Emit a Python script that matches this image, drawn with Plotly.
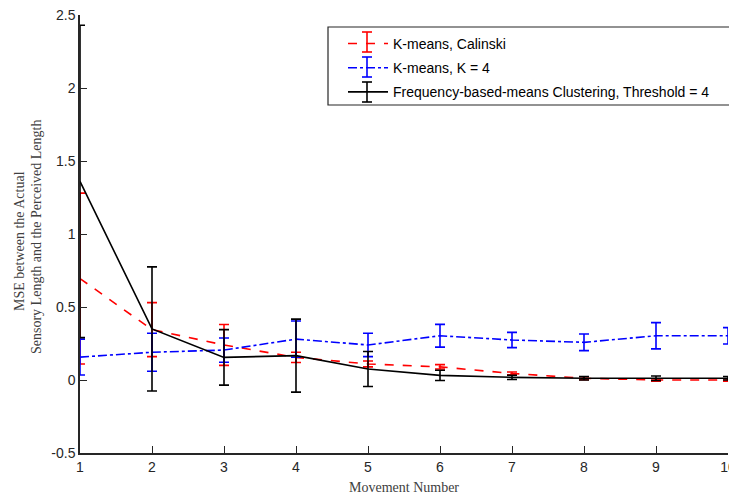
import plotly.graph_objects as go

movement = [1, 2, 3, 4, 5, 6, 7, 8, 9, 10]

kmeans_calinski = [0.695, 0.345, 0.24, 0.155, 0.11, 0.09, 0.045, 0.012, 0.0, 0.0]
kmeans_calinski_err = [0.585, 0.185, 0.14, 0.035, 0.02, 0.015, 0.01, 0.01, 0.008, 0.008]

kmeans_k4 = [0.157, 0.19, 0.205, 0.28, 0.24, 0.303, 0.274, 0.258, 0.303, 0.303]
kmeans_k4_err = [0.123, 0.13, 0.083, 0.124, 0.08, 0.078, 0.052, 0.057, 0.09, 0.056]

freq_means = [1.36, 0.35, 0.155, 0.167, 0.075, 0.032, 0.018, 0.012, 0.012, 0.012]
freq_means_err = [1.07, 0.425, 0.19, 0.25, 0.12, 0.035, 0.015, 0.012, 0.015, 0.012]

series_names = ["K-means, Calinski", "K-means, K = 4",
                "Frequency-based-means Clustering, Threshold = 4"]
series_colors = ["#ff0000", "#0000ff", "#000000"]
series_dashes = ["dash", "dashdot", "solid"]

y_tickvals = [-0.5, 0, 0.5, 1, 1.5, 2, 2.5]
y_ticktext = ["-0.5", "0", "0.5", "1", "1.5", "2", "2.5"]

x_title = "Movement Number"
y_title_lines = ["MSE between the Actual", "Sensory Length and the Perceived Length"]

# page body has an 8px margin; plot area spans screen px 80..728 (x) and 15..453 (y)
OFF = 8
PX0, PX1, PY0, PY1 = 80, 728, 15, 453


def px(xp):
    return (xp - PX0) / (PX1 - PX0)


def py(yp):
    return (PY1 - yp) / (PY1 - PY0)


fig = go.Figure()

series = [(kmeans_calinski, kmeans_calinski_err), (kmeans_k4, kmeans_k4_err),
          (freq_means, freq_means_err)]
for i, ((vals, errs), name, col, dash) in enumerate(zip(series, series_names,
                                                         series_colors, series_dashes)):
    fig.add_trace(go.Scatter(
        x=movement, y=vals, name=name, mode="lines",
        legendgroup="g%d" % i,
        line=dict(color=col, width=1.6, dash=dash),
        error_y=dict(type="data", array=errs, visible=True, color=col,
                     thickness=1.6, width=5),
        cliponaxis=False,
    ))

axis_common = dict(
    showline=True, linecolor="#262626", linewidth=1.5,
    ticks="inside", ticklen=7, tickwidth=1.2, tickcolor="#262626",
    showgrid=False, zeroline=False, mirror=False, automargin=False,
    ticklabeloverflow="allow",
    tickfont=dict(family="Liberation Sans, Arial", size=14, color="#262626"),
)

title_font = dict(family="Liberation Serif, Times New Roman", size=14, color="#404040")

shapes = [dict(type="rect", xref="paper", yref="paper",
               x0=px(328), x1=px(733), y0=py(105), y1=py(27),
               line=dict(color="#262626", width=1.2), fillcolor="white", layer="below")]
# error-bar glyphs in the legend samples
row_y = [42, 67, 92]
icon_x = 367
for ry, col in zip(row_y, series_colors):
    shapes.append(dict(type="line", xref="paper", yref="paper",
                       x0=px(icon_x), x1=px(icon_x), y0=py(ry - 10), y1=py(ry + 10),
                       line=dict(color=col, width=1.6)))
    for cy in (ry - 10, ry + 10):
        shapes.append(dict(type="line", xref="paper", yref="paper",
                           x0=px(icon_x - 5), x1=px(icon_x + 5), y0=py(cy), y1=py(cy),
                           line=dict(color=col, width=1.6)))

annotations = [
    dict(text=y_title_lines[0], xref="paper", yref="paper", x=px(19), y=py(241),
         xanchor="center", yanchor="middle", textangle=-90, showarrow=False,
         font=title_font),
    dict(text=y_title_lines[1], xref="paper", yref="paper", x=px(36), y=py(237),
         xanchor="center", yanchor="middle", textangle=-90, showarrow=False,
         font=title_font),
]

fig.update_layout(
    width=737 - OFF, height=499 - OFF,
    margin=dict(l=PX0 - OFF, r=OFF + 737 - OFF - PX1, t=PY0 - OFF, b=499 - PY1),
    paper_bgcolor="white", plot_bgcolor="white",
    xaxis=dict(range=[1, 10], tickvals=movement, ticktext=[str(m) for m in movement],
               title=dict(text=x_title, standoff=9, font=title_font),
               **axis_common),
    yaxis=dict(range=[-0.5, 2.5], tickvals=y_tickvals, ticktext=y_ticktext,
               **axis_common),
    legend=dict(x=px(343), y=py(27) - 0.002, xanchor="left", yanchor="top",
                borderwidth=0, bgcolor="rgba(0,0,0,0)",
                font=dict(family="Liberation Sans, Arial", size=14, color="#000000"),
                tracegroupgap=3, itemwidth=40),
    showlegend=True,
    shapes=shapes,
    annotations=annotations,
)

fig.write_html("out.html")
